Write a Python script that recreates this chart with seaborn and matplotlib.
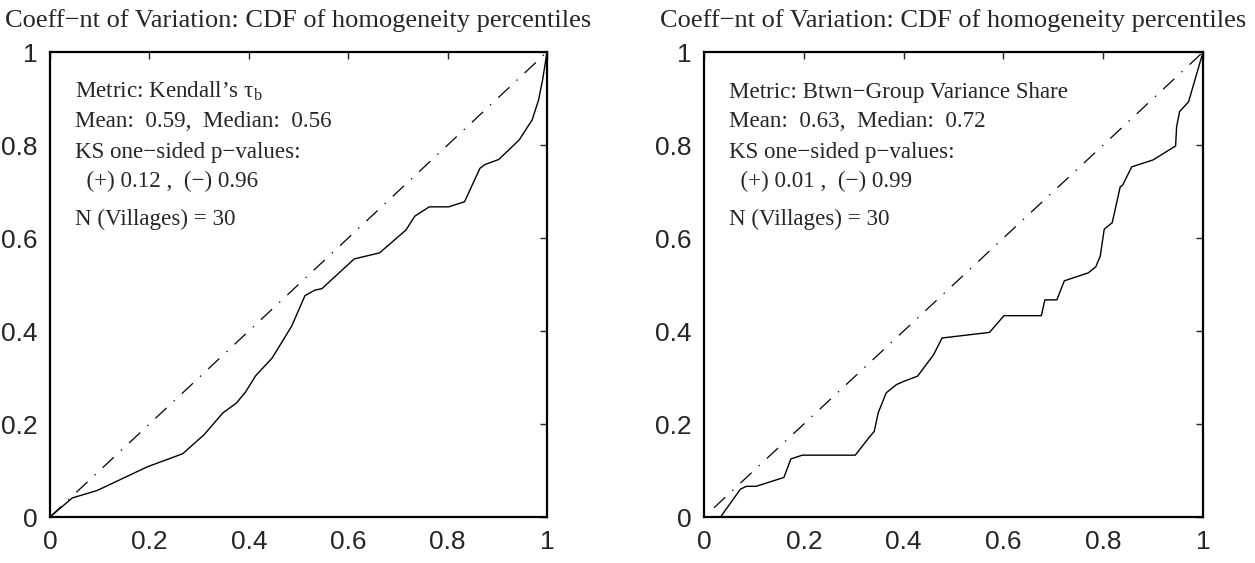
import seaborn as sns
import matplotlib.pyplot as plt
import numpy as np

# -------------------------------
# Data
# -------------------------------
title_text = "Coeff\u2212nt of Variation: CDF of homogeneity percentiles"
ticks = [0, 0.2, 0.4, 0.6, 0.8, 1]
tick_labels = ["0", "0.2", "0.4", "0.6", "0.8", "1"]

# left panel: Kendall's tau_b
kendall_x = [0, 0.045, 0.095, 0.196, 0.267, 0.310, 0.348, 0.375, 0.393, 0.414,
             0.447, 0.486, 0.513, 0.533, 0.547, 0.612, 0.663, 0.716, 0.734, 0.763,
             0.802, 0.834, 0.865, 0.875, 0.903, 0.944, 0.970, 0.983, 0.991, 1.0]
kendall_y = [0, 0.041, 0.057, 0.108, 0.136, 0.177, 0.224, 0.245, 0.268, 0.304,
             0.342, 0.410, 0.476, 0.488, 0.491, 0.555, 0.568, 0.617, 0.647, 0.667,
             0.667, 0.678, 0.750, 0.758, 0.769, 0.811, 0.854, 0.897, 0.940, 1.0]
kendall_diag = [0, 1]
kendall_lines = ["Metric: Kendall\u2019s $\\mathrm{\\tau_b}$",
                 "Mean:  0.59,  Median:  0.56",
                 "KS one\u2212sided p\u2212values:",
                 "  (+) 0.12 ,  (\u2212) 0.96",
                 "N (Villages) = 30"]

# right panel: between-group variance share
btwn_x = [0.033, 0.073, 0.085, 0.104, 0.160, 0.174, 0.197, 0.303, 0.330, 0.341,
          0.349, 0.365, 0.386, 0.401, 0.428, 0.460, 0.477, 0.572, 0.601, 0.676,
          0.683, 0.707, 0.722, 0.770, 0.785, 0.794, 0.802, 0.818, 0.834, 0.839,
          0.857, 0.900, 0.945, 0.947, 0.953, 0.971, 1.0]
btwn_y = [0, 0.060, 0.066, 0.066, 0.085, 0.125, 0.133, 0.133, 0.170, 0.184,
          0.224, 0.267, 0.285, 0.292, 0.303, 0.349, 0.385, 0.397, 0.433, 0.433,
          0.467, 0.467, 0.508, 0.525, 0.538, 0.561, 0.619, 0.633, 0.710, 0.714,
          0.753, 0.768, 0.798, 0.839, 0.872, 0.893, 1.0]
btwn_diag = [0.02, 1]
btwn_lines = ["Metric: Btwn\u2212Group Variance Share",
              "Mean:  0.63,  Median:  0.72",
              "KS one\u2212sided p\u2212values:",
              "  (+) 0.01 ,  (\u2212) 0.99",
              "N (Villages) = 30"]

# -------------------------------
# Style
# -------------------------------
sns.set_style("white")
plt.rcParams["font.family"] = ["Liberation Sans", "DejaVu Sans"]
plt.rcParams["mathtext.fontset"] = "custom"
plt.rcParams["mathtext.rm"] = "Liberation Serif"
plt.rcParams["mathtext.it"] = "Liberation Serif:italic"
plt.rcParams["mathtext.bf"] = "Liberation Serif:bold"
plt.rcParams["lines.scale_dashes"] = False

fig = plt.figure(figsize=(12.55, 5.63), dpi=100)
ax1 = fig.add_axes([0.0398, 0.0817, 0.3961, 0.8259])
ax2 = fig.add_axes([0.5610, 0.0817, 0.3976, 0.8259])

line_ys = [0.901, 0.839, 0.772, 0.710, 0.628]

for ax, cx, cy, dg, lines in [(ax1, kendall_x, kendall_y, kendall_diag, kendall_lines),
                              (ax2, btwn_x, btwn_y, btwn_diag, btwn_lines)]:
    sns.lineplot(x=cx, y=cy, ax=ax, color="black", linewidth=1.0,
                 estimator=None, sort=False)
    diag, = ax.plot(dg, dg, color="black", linewidth=0.9)
    diag.set_dashes([11, 7, 1, 7])

    ax.set_xlim(0, 1)
    ax.set_ylim(0, 1)
    ax.set_xticks(ticks)
    ax.set_xticklabels(tick_labels)
    ax.set_yticks(ticks)
    ax.set_yticklabels(tick_labels)
    ax.tick_params(direction="in", top=True, right=True, length=5, width=1,
                   labelsize=19, pad=9)
    for s in ax.spines.values():
        s.set_linewidth(1.6)
        s.set_color("black")
    ax.set_title(title_text, family=["Liberation Serif", "DejaVu Serif"],
                 fontsize=19, pad=18)

    for txt, yy in zip(lines, line_ys):
        ax.text(0.05, yy, txt, transform=ax.transAxes, fontsize=16.6,
                family=["Liberation Serif", "DejaVu Serif"], va="baseline")

plt.savefig("out.png", dpi=100)
